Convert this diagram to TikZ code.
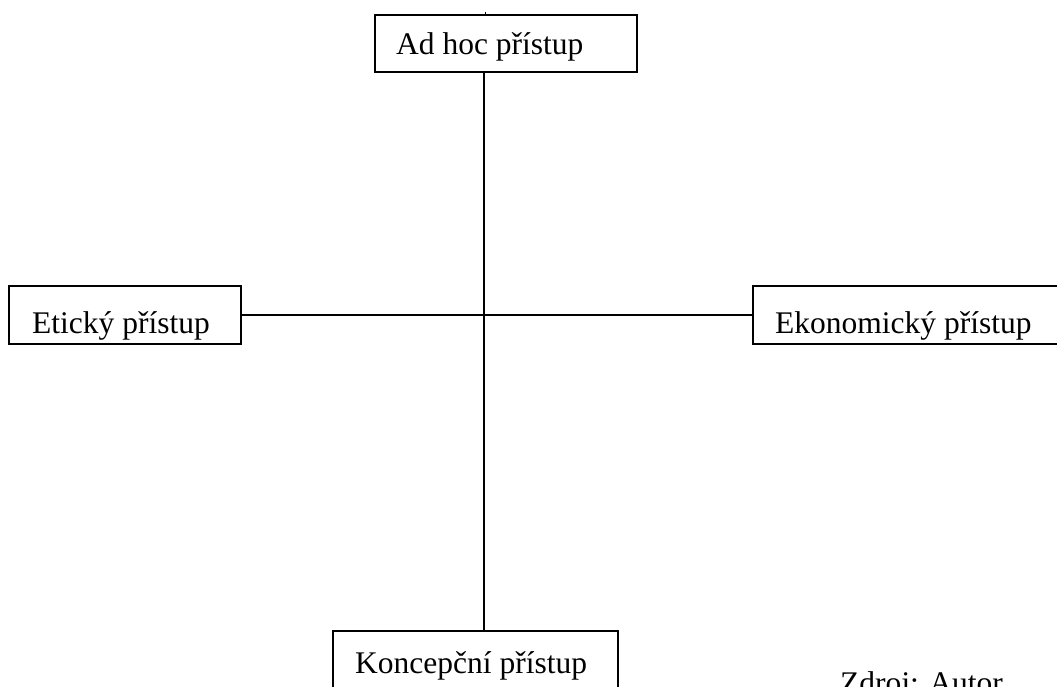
\documentclass[tikz,border=0pt]{standalone}
\usepackage{fontspec}
\setmainfont{Liberation Serif}
\begin{document}
\begin{tikzpicture}[x=1pt,y=1pt,
  box/.style={draw=black,line width=1.8pt,rectangle,inner sep=0pt},
  lbl/.style={anchor=base west,inner sep=0pt,font=\fontsize{31.5}{36}\selectfont},
  conn/.style={draw=black,line width=1.8pt}]
\useasboundingbox (0,0) rectangle (1057,686);
\clip (0,0) rectangle (1057,686);
% boxes
\node[box,minimum width=262pt,minimum height=57pt] (top) at (506,642.5) {};
\node[box,minimum width=232pt,minimum height=58pt] (left) at (125,371) {};
\node[box,minimum width=320pt,minimum height=58pt] (right) at (913,371) {};
\node[box,minimum width=285pt,minimum height=58pt] (bot) at (475.5,26) {};
% texts
\node[lbl] (ttop) at (396,631) {Ad hoc přístup};
\node[lbl] (tleft) at (32,352) {Etický přístup};
\node[lbl] (tright) at (775,352) {Ekonomický přístup};
\node[lbl] (tbot) at (355,13) {Koncepční přístup};
\node[lbl] (src) at (840,-7) {Zdroj: Autor};
% connectors
\coordinate (vx) at (484,0);
\coordinate (tick) at (485,674);
\draw[conn] (top.south -| vx) -- (bot.north -| vx);
\draw[conn,line width=1pt] (top.north -| tick) -- (tick);
\draw[conn] (left.east) -- (right.west);
\end{tikzpicture}
\end{document}
